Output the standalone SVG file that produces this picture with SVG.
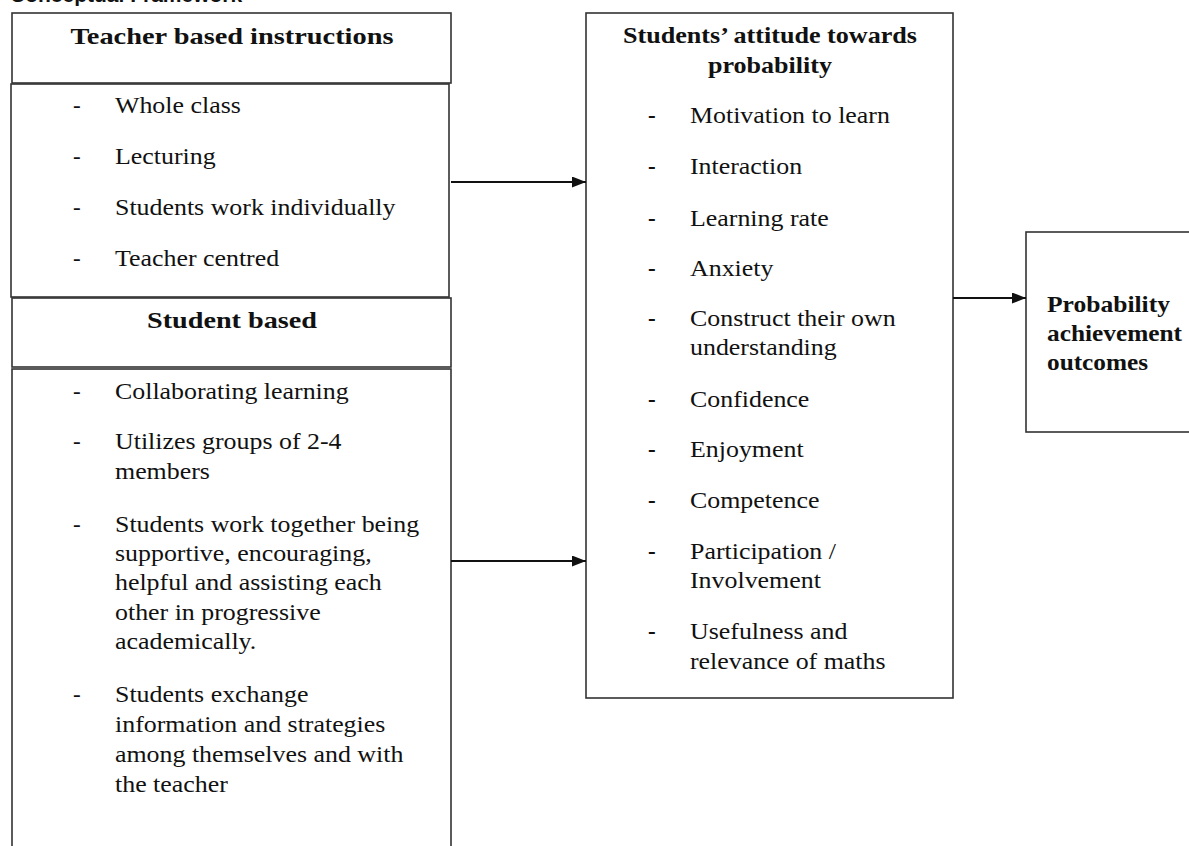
<svg xmlns="http://www.w3.org/2000/svg" width="1189" height="846" viewBox="0 0 1189 846">
<style>
.box{fill:#fff;stroke:#333;stroke-width:1.6}
.h{font-family:"Liberation Serif","Times New Roman",serif;font-weight:bold;font-size:24px;fill:#111}
.t{font-family:"Liberation Serif","Times New Roman",serif;font-size:23px;fill:#111}
.c{stroke:#111;stroke-width:2;fill:none}
.ttl{font-family:"Liberation Sans",Arial,sans-serif;font-weight:bold;font-size:21px;fill:#111}
</style>
<defs>
<marker id="ah" markerWidth="14" markerHeight="11" refX="14" refY="5.5" orient="auto" markerUnits="userSpaceOnUse">
<path d="M0,0 L14,5.5 L0,11 Z" fill="#111"/>
</marker>
</defs>
<rect width="1189" height="846" fill="#fff"/>
<text class="ttl" x="10" y="2">Conceptual Framework</text>

<g id="teacher-header">
<rect class="box" x="12" y="13" width="439" height="70"/>
<text class="h" x="232" y="44" text-anchor="middle" textLength="323" lengthAdjust="spacingAndGlyphs">Teacher based instructions</text>
</g>
<g id="teacher-body">
<rect class="box" x="11" y="84" width="438" height="213"/>
<g class="t"><text x="73" y="113">-</text><text x="73" y="164">-</text><text x="73" y="215">-</text><text x="73" y="266">-</text></g>
<g class="t" transform="matrix(1.126,0,0,1,-14.49,0)">
<text x="115" y="113">Whole class</text>
<text x="115" y="164">Lecturing</text>
<text x="115" y="215">Students work individually</text>
<text x="115" y="266">Teacher centred</text>
</g>
</g>
<g id="student-header">
<rect class="box" x="12" y="298" width="439" height="69"/>
<text class="h" x="232" y="328" text-anchor="middle" textLength="170" lengthAdjust="spacingAndGlyphs">Student based</text>
</g>
<g id="student-body">
<rect class="box" x="12" y="369" width="439" height="490"/>
<g class="t"><text x="73" y="399">-</text><text x="73" y="449">-</text><text x="73" y="532">-</text><text x="73" y="702">-</text></g>
<g class="t" transform="matrix(1.126,0,0,1,-14.49,0)">
<text x="115" y="399">Collaborating learning</text>
<text x="115" y="449">Utilizes groups of 2-4</text>
<text x="115" y="479">members</text>
<text x="115" y="532">Students work together being</text>
<text x="115" y="561">supportive, encouraging,</text>
<text x="115" y="590">helpful and assisting each</text>
<text x="115" y="620">other in progressive</text>
<text x="115" y="649">academically.</text>
<text x="115" y="702">Students exchange</text>
<text x="115" y="732">information and strategies</text>
<text x="115" y="762">among themselves and with</text>
<text x="115" y="792">the teacher</text>
</g>
</g>
<g id="attitude">
<rect class="box" x="586" y="13" width="367" height="685"/>
<text class="h" x="770" y="43" text-anchor="middle" textLength="294" lengthAdjust="spacingAndGlyphs">Students’ attitude towards</text>
<text class="h" x="770" y="73" text-anchor="middle" textLength="124" lengthAdjust="spacingAndGlyphs">probability</text>
<g class="t" font-weight="bold">
<text x="648" y="123">-</text><text x="648" y="174">-</text><text x="648" y="226">-</text><text x="648" y="276">-</text>
<text x="648" y="326">-</text><text x="648" y="407">-</text><text x="648" y="457">-</text><text x="648" y="508">-</text>
<text x="648" y="559">-</text><text x="648" y="639">-</text>
</g>
<g class="t" transform="matrix(1.126,0,0,1,-86.94,0)">
<text x="690" y="123">Motivation to learn</text>
<text x="690" y="174">Interaction</text>
<text x="690" y="226">Learning rate</text>
<text x="690" y="276">Anxiety</text>
<text x="690" y="326">Construct their own</text>
<text x="690" y="355">understanding</text>
<text x="690" y="407">Confidence</text>
<text x="690" y="457">Enjoyment</text>
<text x="690" y="508">Competence</text>
<text x="690" y="559">Participation /</text>
<text x="690" y="588">Involvement</text>
<text x="690" y="639">Usefulness and</text>
<text x="690" y="669">relevance of maths</text>
</g>
</g>
<g id="outcomes">
<rect class="box" x="1026" y="232" width="200" height="200"/>
<text class="h" x="1047" y="312" textLength="123" lengthAdjust="spacingAndGlyphs">Probability</text>
<text class="h" x="1047" y="341" textLength="135" lengthAdjust="spacingAndGlyphs">achievement</text>
<text class="h" x="1047" y="370" textLength="101" lengthAdjust="spacingAndGlyphs">outcomes</text>
</g>
<g id="connectors">
<line class="c" x1="451" y1="182" x2="586" y2="182" marker-end="url(#ah)"/>
<line class="c" x1="451" y1="561" x2="586" y2="561" marker-end="url(#ah)"/>
<line class="c" x1="953" y1="298" x2="1026" y2="298" marker-end="url(#ah)"/>
</g>
</svg>
